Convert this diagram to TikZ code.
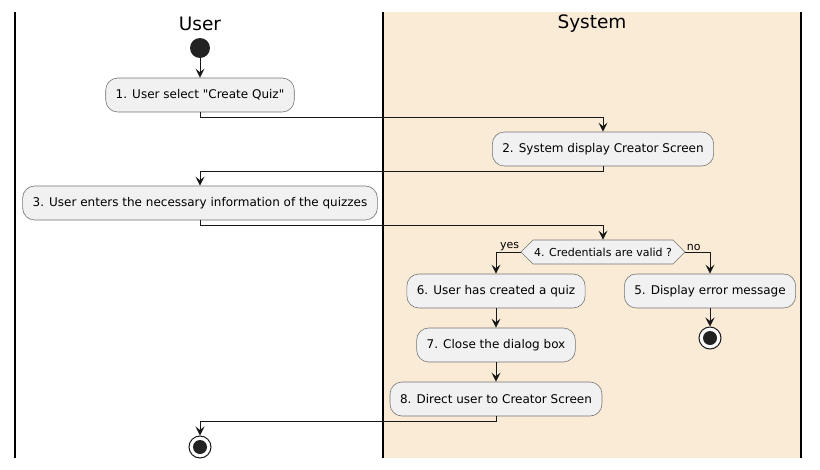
\documentclass[tikz,border=0pt]{standalone}
\usepackage{fontspec}
\setmainfont{DejaVu Sans}
\usetikzlibrary{arrows.meta,positioning,shapes.symbols}

\definecolor{lanefill}{HTML}{FAEBD7}
\definecolor{actfill}{HTML}{F1F1F1}
\definecolor{linecol}{HTML}{181818}
\definecolor{dotcol}{HTML}{222222}

\tikzset{
  act/.style={draw=linecol!60, line width=0.6pt, fill=actfill, rounded corners=12pt,
    minimum height=34pt, inner xsep=10pt, font=\fontsize{12}{14}\selectfont},
  decision/.style={shape=signal, signal to=west and east, draw=linecol!60, line width=0.6pt,
    fill=actfill, minimum height=24pt, inner xsep=1pt, font=\fontsize{11}{13}\selectfont},
  startdot/.style={circle, fill=dotcol, minimum size=20pt, inner sep=0pt},
  enddot/.style={circle, draw=linecol, line width=1pt, fill=white, minimum size=22pt, inner sep=0pt,
    path picture={\fill[dotcol] (path picture bounding box.center) circle (7pt);}},
  flow/.style={->, draw=linecol, line width=1pt},
  guard/.style={inner sep=1pt, font=\fontsize{11}{13}\selectfont},
  lane/.style={line width=1.5pt, draw=black},
  lanetitle/.style={font=\fontsize{18.5}{20}\selectfont}
}

\begin{document}
\begin{tikzpicture}[x=1pt,y=-1pt,node distance=54pt,>={Stealth[length=9pt,width=9pt,inset=3.5pt]}]
    \useasboundingbox (0,0) rectangle (820,469);

    % swimlanes
    \fill[lanefill] (383,12) rectangle (801,458);
    \draw[lane] (15,12) -- (15,458);
    \draw[lane] (383,12) -- (383,458);
    \draw[lane] (801,12) -- (801,458);
    \node[lanetitle] (user) at (200,24) {User};
    \node[lanetitle] (system) at (592,24) {System};

    % user lane
    \node[startdot] (start) at (200,48) {};
    \node[act] (select) at (200,95) {1. User select \textquotedbl Create Quiz\textquotedbl};
    \node[act] (enter) at (200,203) {3. User enters the necessary information of the quizzes};
    \node[enddot] (stop) at (200,447) {};

    % system lane
    \node[act] (display) at (603,149) {2. System display Creator Screen};
    \node[decision] (valid) at (603,252) {4. Credentials are valid ?};
    \node[act] (created) at (496,291) {6. User has created a quiz};
    \node[act] (close) [below of=created] {7. Close the dialog box};
    \node[act] (direct) [below of=close] {8. Direct user to Creator Screen};
    \node[act] (error) at (710,291) {5. Display error message};
    \node[enddot] (errstop) at (710,338) {};

    \draw[flow] (start) -- (select);
    \draw[flow] (select.south) -- ++(0,5) -| (display.north);
    \draw[flow] (display.south) -- ++(0,5) -| (enter.north);
    \draw[flow] (enter.south) -- ++(0,5) -| (valid.north);
    \draw[flow] (valid.west) -| node[guard, pos=0, anchor=south east] {yes} (created.north);
    \draw[flow] (valid.east) -| node[guard, pos=0, anchor=south west] {no} (error.north);
    \draw[flow] (created) -- (close);
    \draw[flow] (close) -- (direct);
    \draw[flow] (error) -- (errstop);
    \draw[flow] (direct.south) -- ++(0,5) -| (stop.north);
  \end{tikzpicture}
\end{document}
